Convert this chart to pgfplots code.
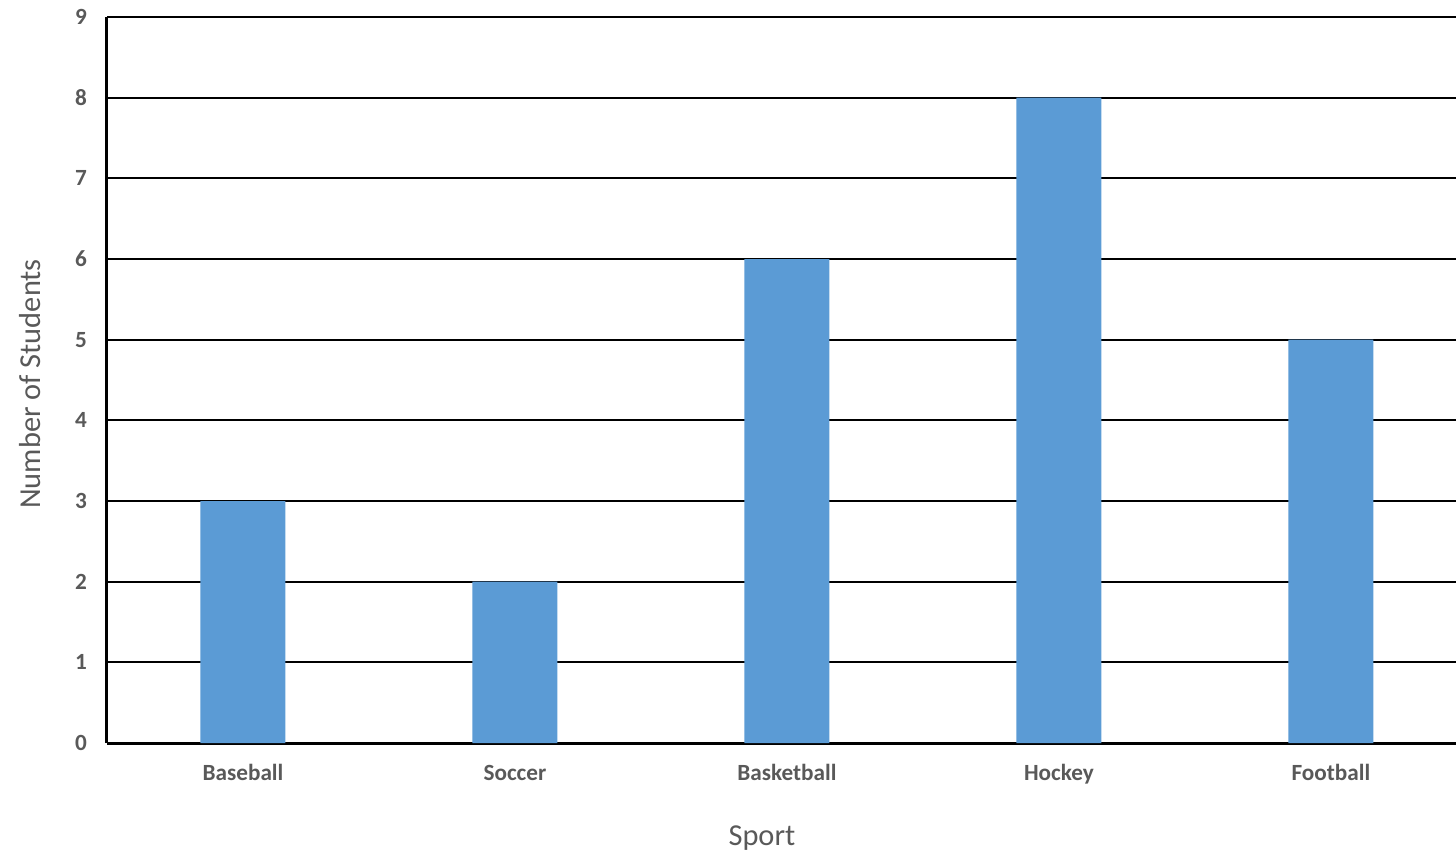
\documentclass[border=0pt]{standalone}
\usepackage{fontspec}
\setmainfont{Carlito}
\usepackage{pgfplots}
\pgfplotsset{compat=1.18}
\definecolor{barblue}{HTML}{5B9BD5}
\definecolor{txtgray}{HTML}{595959}
\begin{document}
\begin{tikzpicture}
\useasboundingbox (-53.5pt,-56.5pt) rectangle (674.5pt,371.5pt);
\begin{axis}[
  scale only axis,
  width=674.5pt, height=363pt,
  xmin=-0.5, xmax=4.46,
  ymin=0, ymax=9,
  axis x line*=bottom, axis y line*=left,
  axis line style={-, black, line width=1.5pt},
  ytick={0,1,...,9},
  xtick={0,1,2,3,4},
  xticklabels={Baseball,Soccer,Basketball,Hockey,Football},
  major tick length=0pt,
  ymajorgrids,
  grid style={black, line width=0.9pt},
  /pgf/number format/assume math mode=true,
  ticklabel style={font=\fontsize{11.6}{13}\selectfont\bfseries, text=txtgray},
  xticklabel style={anchor=base, yshift=-18.5pt},
  yticklabel style={anchor=east, xshift=-6.5pt},
  xlabel={Sport}, ylabel={Number of Students},
  every axis x label/.style={at={(axis description cs:0.4855,-0.131)}, anchor=center, font=\fontsize{15.2}{18}\selectfont, text=txtgray},
  every axis y label/.style={at={(axis description cs:-0.057,0.4945)}, anchor=center, rotate=90, font=\fontsize{15.2}{18}\selectfont, text=txtgray},
  clip=false,
]
\addplot[ybar, bar width=0.3125, fill=barblue, draw=none] coordinates {
  (0,3) (1,2) (2,6) (3,8) (4,5)
};
\end{axis}
\end{tikzpicture}
\end{document}
